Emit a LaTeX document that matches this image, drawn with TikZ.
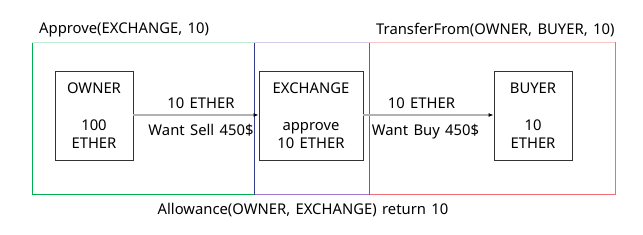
\documentclass[tikz,border=0pt]{standalone}
\usepackage{fontspec}
\setmainfont[WordSpace=1.4]{Noto Sans}
\usepackage{tikz}
\usetikzlibrary{arrows.meta,positioning}

\definecolor{apgreen}{RGB}{0,176,80}
\definecolor{expurple}{RGB}{160,120,205}
\definecolor{trred}{RGB}{240,110,115}
\definecolor{apex}{RGB}{50,60,140}
\definecolor{extr}{RGB}{150,70,170}

\tikzset{
  party/.style={draw=black!80,line width=0.8pt,minimum width=78pt,minimum height=89pt,
    align=center,inner sep=0pt,font=\fontsize{14.8}{18}\selectfont},
  flow/.style={draw=black!30,line width=1.3pt,-{Latex[length=5pt,width=4pt,black]}},
  lbl/.style={font=\fontsize{14.8}{16}\selectfont,inner sep=0pt},
  region/.style={line width=1pt}
}

\begin{document}
\begin{tikzpicture}[x=1pt,y=-1pt]
  \useasboundingbox (0,0) rectangle (643,235);
  % call regions
  \draw[region,draw=apgreen] (32,43) rectangle (254,195);
  \draw[region,draw=expurple] (254,43) rectangle (369,195);
  \draw[region,draw=trred] (369,43) rectangle (615,195);
  \draw[region,draw=apgreen!25] (32,43) -- (254,43);
  \draw[region,draw=expurple!40] (254,43) -- (369,43);
  \draw[region,draw=trred!40] (369,43) -- (615,43);
  \draw[region,draw=apex] (254,43) -- (254,195);
  \draw[region,draw=extr] (369,43) -- (369,195);
  \node[lbl,anchor=west] (approve) at (39,30) {Approve(EXCHANGE, 10)};
  \node[lbl,anchor=west] (transfer) at (376,30) {TransferFrom(OWNER, BUYER, 10)};
  \node[lbl] (allow) at (303,210) {Allowance(OWNER, EXCHANGE) return 10};
  % accounts
  \node[party] (owner) at (94,115.5) {OWNER\\[19pt]100\\ETHER};
  \node[party,minimum width=104pt] (exchange) at (311,115.5) {EXCHANGE\\[19pt]approve\\10 ETHER};
  \node[party] (buyer) at (533,116) {BUYER\\[19pt]10\\ETHER};
  % transfers
  \draw[flow] (owner.east |- 0,115) -- node[lbl,above=6pt,xshift=5pt] {10 ETHER}
    node[lbl,below=9pt,xshift=5pt] {Want Sell 450\$} (exchange.west |- 0,115);
  \draw[flow] (exchange.east |- 0,115) -- node[lbl,above=6pt,xshift=-7pt] {10 ETHER}
    node[lbl,below=9pt,xshift=-3pt] {Want Buy 450\$} (buyer.west |- 0,115);
\end{tikzpicture}
\end{document}
